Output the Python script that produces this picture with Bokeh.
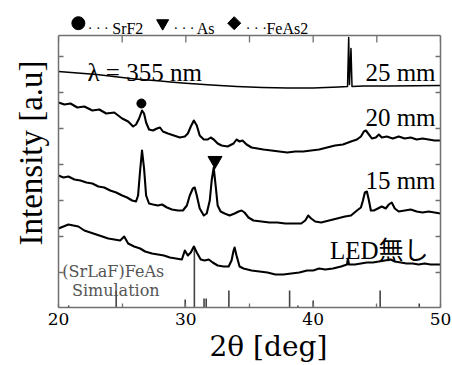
from bokeh.plotting import figure
from bokeh.models import LinearAxis, FixedTicker, Label, Range1d, Title, CustomJSTickFormatter, Span
from bokeh.core.properties import value
from bokeh.embed import file_html
from bokeh.resources import INLINE

# ---------------- data (2theta [deg], intensity [a.u.]) ----------------
t25 = [20, 21, 22, 23, 24, 25, 26, 27, 28, 29, 30, 32, 34, 36, 38, 40, 42, 42.7, 42.79, 42.85, 42.97, 43.05, 44, 46, 48, 50]
i25 = [236, 235, 234, 233, 231.5, 230, 228.5, 227.5, 226.5, 225.3, 224.3, 222.5, 221, 220, 219.5, 219.5, 220.5, 221, 270, 223, 259, 221, 221.5, 221.5, 221.7, 222]

t20 = [20.00, 20.47, 20.94, 21.48, 22.03, 22.66, 23.2, 23.75, 24.38, 25.0, 25.47, 25.86, 26.09, 26.33, 26.56, 26.72, 26.88, 27.11, 27.42, 27.73,
       27.97, 28.2, 28.59, 29.06, 29.53, 29.92, 30.16, 30.39, 30.63, 30.86, 31.09, 31.41, 31.72, 31.95, 32.19, 32.5, 32.81, 33.28, 33.75, 33.98,
       34.22, 34.45, 34.77, 35.16, 35.63, 36.09, 36.72, 37.34, 37.97, 38.59, 39.22, 39.84, 40.47, 41.09, 41.72, 42.34, 42.97, 43.44, 43.75, 43.98,
       44.14, 44.38, 44.61, 44.92, 45.16, 45.39, 45.78, 46.25, 46.72, 47.19, 47.66, 48.13, 48.59, 49.06, 49.53, 50.0]
i20 = [205, 203, 204, 200, 201, 197, 198, 194, 195, 189, 186, 181, 183, 189, 197, 194, 185, 178, 177, 179,
       180, 176, 174, 172, 170, 171, 174, 181, 187, 182, 172, 168, 168, 170, 168, 164, 162, 161, 164, 168,
       166, 167, 163, 160, 159, 158, 157, 156, 155, 156, 156, 157, 158, 160, 162, 163, 166, 168, 171, 176,
       177, 173, 169, 170, 173, 170, 171, 169, 171, 169, 170, 168, 169, 168, 167, 167]

t15 = [20.00, 20.39, 20.78, 21.25, 21.72, 22.19, 22.66, 23.13, 23.59, 24.06, 24.53, 25.0, 25.39, 25.78, 26.09, 26.25, 26.41, 26.56, 26.72, 26.88,
       27.11, 27.42, 27.81, 28.13, 28.52, 28.91, 29.38, 29.77, 30.08, 30.31, 30.55, 30.7, 30.86, 31.09, 31.41, 31.64, 31.88, 32.03, 32.19, 32.34,
       32.5, 32.73, 33.05, 33.44, 33.83, 34.14, 34.38, 34.61, 34.92, 35.31, 35.94, 36.56, 37.19, 37.81, 38.44, 39.06, 39.38, 39.61, 39.84, 40.16,
       40.63, 41.25, 41.88, 42.5, 42.97, 43.44, 43.75, 43.91, 44.06, 44.22, 44.38, 44.53, 44.77, 45.08, 45.39, 45.7, 45.94, 46.17, 46.41, 46.72,
       47.19, 47.66, 48.13, 48.59, 49.06, 49.53, 50.0]
i15 = [132, 130, 131, 128, 127, 125, 124, 121, 120, 117, 115, 112, 110, 107, 106, 112, 137, 157, 139, 112,
       104, 103, 102, 103, 100, 98, 97, 97, 102, 112, 119, 120, 112, 99, 92, 94, 107, 127, 140, 122,
       102, 96, 94, 92, 94, 96, 97, 95, 90, 87, 86, 85, 85, 84, 84, 84, 87, 92, 89, 86,
       85, 87, 89, 91, 92, 97, 100, 107, 115, 116, 107, 97, 97, 99, 101, 99, 103, 105, 99, 96,
       97, 98, 96, 95, 96, 95, 94]

t_led = [20.00, 20.39, 20.78, 21.17, 21.56, 22.03, 22.5, 22.97, 23.44, 23.91, 24.38, 24.84, 25.16, 25.47, 25.94, 26.41, 26.8, 27.34, 27.81, 28.28,
         28.75, 29.22, 29.69, 29.92, 30.16, 30.39, 30.63, 30.86, 31.17, 31.48, 31.8, 32.11, 32.5, 32.97, 33.36, 33.59, 33.75, 33.83, 33.98, 34.22,
         34.53, 35.16, 35.78, 36.41, 37.03, 37.66, 38.28, 38.91, 39.53, 40.0, 40.47, 40.94, 41.56, 42.19, 42.66, 42.73, 42.81, 43.28, 43.75, 44.22,
         44.69, 45.16, 45.63, 46.09, 46.41, 46.88, 47.34, 47.81, 48.28, 48.75, 49.22, 49.69, 50.0]
i_led = [79, 81, 83, 82, 81, 77, 75, 73, 71, 69, 68, 67, 71, 64, 61, 59, 56, 54, 53, 52,
         50, 49, 48, 57, 52, 55, 61, 55, 48, 47, 48, 45, 42, 41, 41, 47, 57, 60, 52, 41,
         39, 37, 36, 35, 33, 33, 34, 35, 37, 37, 39, 38, 39, 41, 43, 49, 43, 43, 44, 45,
         45, 46, 47, 48, 46, 45, 44, 44, 43, 44, 43, 43, 43]

sim_pos = [20.8, 24.53, 29.95, 30.67, 31.43, 31.6, 33.38, 38.15, 38.8, 40.0, 45.26, 48.33]
sim_h = [2, 17, 8, 61, 9, 9, 17, 17, 2, 7, 17, 4]

srf2_mark = (26.51, 204)
as_mark = (32.29, 147)

legend_names = ["SrF2", "As", "FeAs2"]
legend_markers = ["circle", "inverted_triangle", "square"]

x_ticks = [20, 30, 40, 50]
x_minor = [25, 35, 45]
y_ticks = [35, 71, 107, 143, 179, 215, 251]

FRAME = "#707070"
SERIF = "Liberation Serif"
WIDE = "DejaVu Serif"

Y_TOP = 272        # top of the plotted box (intensity units)
Y_CANVAS = 307     # range end: leaves the legend strip above the box

p = figure(width=452, height=365, x_range=Range1d(20, 50), y_range=Range1d(0, Y_CANVAS),
           output_backend="svg", toolbar_location=None,
           min_border_left=56, min_border_right=12, min_border_top=0, min_border_bottom=58)
p.grid.visible = False
p.outline_line_color = None
p.background_fill_color = "white"
p.border_fill_color = "white"

blank = CustomJSTickFormatter(code="return ''")


def style(ax, tick_len, labels):
    ax.axis_line_color = FRAME
    ax.axis_line_width = 1.5
    ax.major_tick_in = tick_len
    ax.major_tick_out = 0
    ax.minor_tick_in = tick_len
    ax.minor_tick_out = 0
    ax.major_tick_line_color = FRAME
    ax.minor_tick_line_color = FRAME
    ax.major_tick_line_width = 1.3
    ax.minor_tick_line_width = 1.3
    if not labels:
        ax.formatter = blank
        ax.major_label_standoff = 0
        ax.major_label_text_font_size = "1px"


xa = p.xaxis[0]
xa.ticker = FixedTicker(ticks=x_ticks, minor_ticks=x_minor)
style(xa, 4, True)
xa.major_label_text_font = WIDE
xa.major_label_text_font_size = "17px"
xa.major_label_text_color = "black"
xa.major_label_standoff = 5

ya = p.yaxis[0]
ya.ticker = FixedTicker(ticks=y_ticks)
ya.bounds = (0, Y_TOP)
style(ya, 5, False)

right = LinearAxis(ticker=FixedTicker(ticks=y_ticks), bounds=(0, Y_TOP))
style(right, 5, False)
p.add_layout(right, "right")

# top edge of the box with its inward ticks
p.add_layout(Span(location=Y_TOP, dimension="width", line_color=FRAME, line_width=1.5))
top_ticks = x_minor + x_ticks
p.segment(x0=top_ticks, y0=[Y_TOP - 7] * len(top_ticks), x1=top_ticks, y1=[Y_TOP] * len(top_ticks),
          line_color=FRAME, line_width=1.3)

# axis titles (side-panel titles)
xt = Title(text="2θ [deg]", align="left", offset=151, standoff=0, text_font=WIDE,
           text_font_size="28px", text_font_style="normal", text_color="black")
p.add_layout(xt, "below")
yt = Title(text="Intensity [a.u]", align="left", offset=62, standoff=20, text_font=SERIF,
           text_font_size="33px", text_font_style="normal", text_color="black")
p.add_layout(yt, "left")

# legend strip above the box
mark_x = [21.56, 28.18, 33.8]
p.scatter(mark_x, [Y_CANVAS - 22.7] * 3, marker=legend_markers, size=[13, 12, 9.2],
          angle=[0, 0, 0.7854], color="black")
p.text(x=[22.30, 29.03, 34.71], y=[Y_CANVAS - 28.3] * 3, text=["· · ·"] * 3,
       text_font=value(SERIF), text_font_size="14px", text_color="black", text_baseline="alphabetic")
p.text(x=[24.22, 30.86, 36.33], y=[Y_CANVAS - 28.3] * 3, text=legend_names,
       text_font=value(SERIF), text_font_size="16px", text_color="black", text_baseline="alphabetic")

# simulation sticks
p.segment(x0=sim_pos, y0=[0] * len(sim_pos), x1=sim_pos, y1=sim_h, line_color="#444444", line_width=1.6)

# traces
p.line(t25, i25, line_color="black", line_width=1.5, line_join="round")
for t, v in [(t20, i20), (t15, i15), (t_led, i_led)]:
    p.line(t, v, line_color="black", line_width=2.1, line_join="round")

# peak markers
p.scatter([srf2_mark[0]], [srf2_mark[1]], marker="circle", size=9, color="black")
p.scatter([as_mark[0]], [as_mark[1]], marker="inverted_triangle", size=14, color="black")


def lab(x, y, text, font, size, align="left", baseline="alphabetic", color="black"):
    p.add_layout(Label(x=x, y=y, text=text, text_font=font, text_font_size=size,
                       text_align=align, text_baseline=baseline, text_color=color))


lab(22.27, 235.3, "λ = 355 nm", SERIF, "25px")
lab(49.61, 234.7, "25 mm", SERIF, "25px", align="right")
lab(49.61, 190.3, "20 mm", SERIF, "25px", align="right")
lab(49.61, 127, "15 mm", SERIF, "25px", align="right")
lab(49.06, 57, "LED無し", SERIF + ", Noto Sans CJK JP", "25px", align="right")
lab(24.3, 36, "(SrLaF)FeAs", WIDE, "16px", align="center", color="#555555")
lab(24.5, 17, "Simulation", WIDE, "16px", align="center", color="#555555")

open("out.html", "w").write(file_html(p, INLINE))
